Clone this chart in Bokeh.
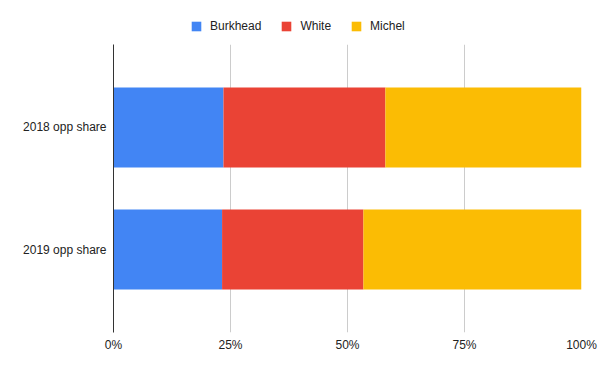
from bokeh.plotting import figure
from bokeh.layouts import column
from bokeh.models import FactorRange, Range1d, FixedTicker, NumeralTickFormatter, Legend, LegendItem
from bokeh.embed import file_html
from bokeh.resources import INLINE

categories = ["2019 opp share", "2018 opp share"]
series_names = ["Burkhead", "White", "Michel"]
burkhead = [0.232, 0.235]
white = [0.302, 0.346]
michel = [0.466, 0.419]
x_ticks = [0, 0.25, 0.5, 0.75, 1.0]
colors = ["#4285F4", "#EA4335", "#FBBC04"]

FONT = "Liberation Sans"
data = dict(cat=categories, Burkhead=burkhead, White=white, Michel=michel)

# main chart
p = figure(width=600, height=311, output_backend="svg", toolbar_location=None,
           y_range=FactorRange(*categories, range_padding=0.18),
           x_range=Range1d(0, 1.0),
           min_border_left=113, min_border_right=19, min_border_top=0, min_border_bottom=23)
p.outline_line_color = None

renderers = p.hbar_stack(series_names, y="cat", height=0.656, color=colors, source=data, line_color=None)

p.xaxis.ticker = FixedTicker(ticks=x_ticks)
p.xaxis.formatter = NumeralTickFormatter(format="0%")
p.xaxis.axis_line_color = None
p.xaxis.major_tick_line_color = None
p.xaxis.minor_tick_line_color = None
p.xaxis.major_label_text_font = FONT
p.xaxis.major_label_text_font_size = "12px"
p.xaxis.major_label_text_color = "#222222"
p.xaxis.major_label_standoff = -1

p.yaxis.axis_line_color = "#333333"
p.yaxis.major_tick_line_color = None
p.yaxis.minor_tick_line_color = None
p.yaxis.major_label_text_font = FONT
p.yaxis.major_label_text_font_size = "12px"
p.yaxis.major_label_text_color = "#222222"
p.yaxis.major_label_standoff = 1

p.xgrid.grid_line_color = "#cccccc"
p.ygrid.grid_line_color = None

# legend strip above the chart
lg = figure(width=600, height=44, output_backend="svg", toolbar_location=None,
            y_range=FactorRange(*categories), x_range=Range1d(0, 1.0),
            x_axis_location=None, y_axis_location=None,
            min_border_left=0, min_border_right=0, min_border_top=0, min_border_bottom=0)
lg.outline_line_color = None
lg.grid.visible = False
dummy = lg.hbar_stack(series_names, y="cat", height=0.5, color=colors, source=data, line_color=None)
for r in dummy:
    r.visible = False

legend = Legend(items=[LegendItem(label=n, renderers=[r]) for n, r in zip(series_names, dummy)],
                orientation="horizontal", location=(77, 11),
                padding=0, margin=0, spacing=19, label_standoff=8,
                glyph_width=12, glyph_height=12, label_height=12,
                label_text_font=FONT, label_text_font_size="12px", label_text_color="#222222",
                border_line_color=None, background_fill_alpha=0)
lg.add_layout(legend, "center")

layout = column(lg, p, spacing=0)
open("out.html", "w").write(file_html(layout, INLINE))
